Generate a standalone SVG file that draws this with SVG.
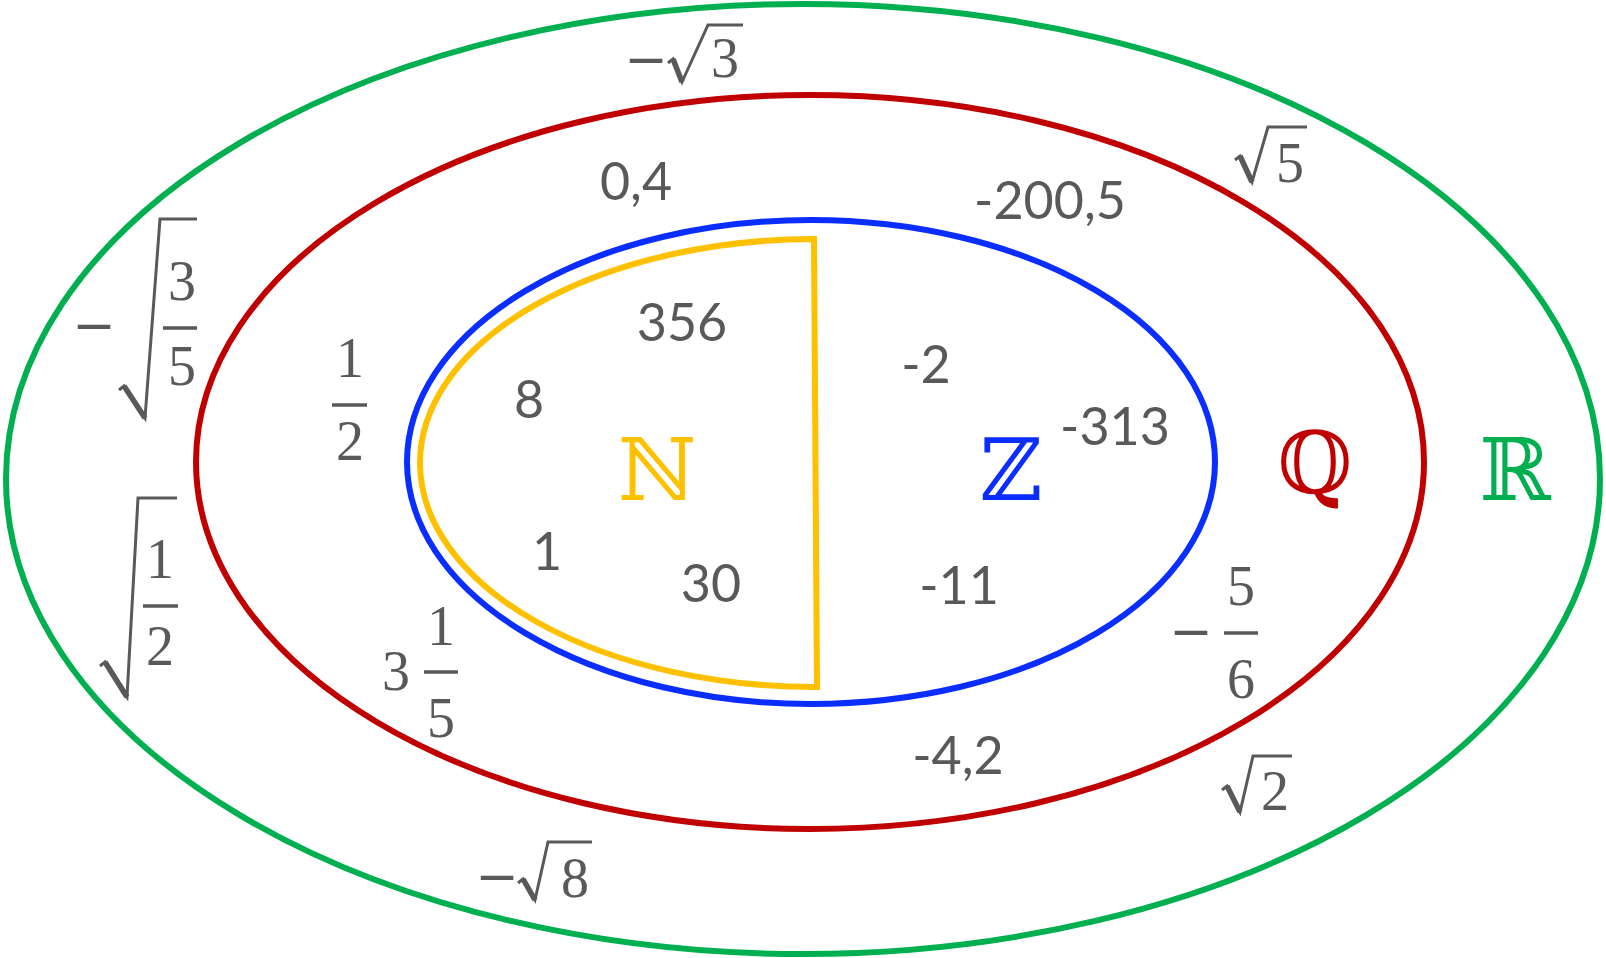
<svg xmlns="http://www.w3.org/2000/svg" width="1606" height="958" viewBox="0 0 1606 958">
<style>
.set{fill:none;stroke-width:6}
.num{font-family:Lato,"Liberation Sans",sans-serif;font-size:52px;fill:#595959;text-anchor:middle}
.m{font-family:"Liberation Serif","DejaVu Serif",serif;font-size:56px;fill:#595959;text-anchor:middle}
.minus{font-family:"DejaVu Sans",sans-serif;font-size:52px;fill:#595959;text-anchor:middle}
.bar{stroke:#595959;stroke-width:3.5}
.rad{fill:none;stroke:#595959;stroke-width:3;stroke-linejoin:miter}
.radt{stroke:#595959;stroke-width:5.5}
.big{font-family:"DejaVu Serif","DejaVu Sans",serif;font-size:86px;text-anchor:middle}
</style>
<rect width="1606" height="958" fill="#ffffff"/>
<g id="R-set"><ellipse class="set" cx="803" cy="479" rx="797" ry="475" stroke="#00B050"/><text class="big" x="1515" y="500" fill="#00B050">ℝ</text></g>
<g id="Q-set"><ellipse class="set" cx="810" cy="462" rx="614" ry="367" stroke="#C00000"/><text class="big" x="1315" y="493" fill="#C00000">ℚ</text></g>
<g id="Z-set"><ellipse class="set" cx="811" cy="462" rx="404" ry="242" stroke="#0A2EFF"/><text class="big" x="1011" y="500" fill="#0A2EFF">ℤ</text></g>
<g id="N-set"><path class="set" d="M814 239 L817 687 A395.5 224 0 0 1 814 239 Z" stroke="#FFC000"/><text class="big" x="657" y="500" fill="#FFC000">ℕ</text></g>
<g id="numbers">
<text class="num" x="636" y="200">0,4</text>
<text class="num" x="1050" y="219">-200,5</text>
<text class="num" x="682" y="341">356</text>
<text class="num" x="529" y="418">8</text>
<text class="num" x="926" y="383">-2</text>
<text class="num" x="1115" y="445">-313</text>
<text class="num" x="547" y="570">1</text>
<text class="num" x="711" y="602">30</text>
<text class="num" x="959" y="604">-11</text>
<text class="num" x="958" y="774">-4,2</text>
</g>
<g id="neg-sqrt3"><text class="minus" x="646" y="77">−</text><polyline class="rad" points="668,63 673,59 682,82 708,25 743,25"/><line class="radt" x1="673" y1="59" x2="682" y2="82"/><text class="m" x="725" y="77">3</text></g>
<g id="sqrt5"><polyline class="rad" points="1235,160 1240,156 1252,182 1268,127 1307,127"/><line class="radt" x1="1240" y1="156" x2="1252" y2="182"/><text class="m" x="1290" y="182">5</text></g>
<g id="sqrt2"><polyline class="rad" points="1222,790 1227,786 1240,812 1253,756 1292,756"/><line class="radt" x1="1227" y1="786" x2="1240" y2="812"/><text class="m" x="1275" y="810">2</text></g>
<g id="neg-sqrt8"><text class="minus" x="497" y="894">−</text><polyline class="rad" points="518,883 523,879 535,900 548,842 592,842"/><line class="radt" x1="523" y1="879" x2="535" y2="900"/><text class="m" x="575" y="897">8</text></g>
<g id="neg-sqrt3-5"><text class="minus" x="94" y="343">−</text><polyline class="rad" points="119,390 124,386 145,418 160,219 197,219"/><line class="radt" x1="124" y1="386" x2="145" y2="418"/><text class="m" x="182" y="300">3</text><line class="bar" x1="163" y1="328" x2="197" y2="328"/><text class="m" x="182" y="385">5</text></g>
<g id="sqrt1-2"><polyline class="rad" points="100,666 105,662 127,697 138,498 177,498"/><line class="radt" x1="105" y1="662" x2="127" y2="697"/><text class="m" x="160" y="578">1</text><line class="bar" x1="143" y1="606" x2="178" y2="606"/><text class="m" x="160" y="665">2</text></g>
<g id="neg-5-6"><text class="minus" x="1191" y="649">−</text><text class="m" x="1241" y="605">5</text><line class="bar" x1="1224" y1="633" x2="1258" y2="633"/><text class="m" x="1241" y="698">6</text></g>
<g id="mixed-3-1-5"><text class="m" x="396" y="690">3</text><text class="m" x="441" y="645">1</text><line class="bar" x1="424" y1="672" x2="458" y2="672"/><text class="m" x="441" y="737">5</text></g>
<g id="half"><text class="m" x="350" y="377">1</text><line class="bar" x1="332" y1="405" x2="367" y2="405"/><text class="m" x="350" y="460">2</text></g>
<g id="connectors"/>
</svg>
